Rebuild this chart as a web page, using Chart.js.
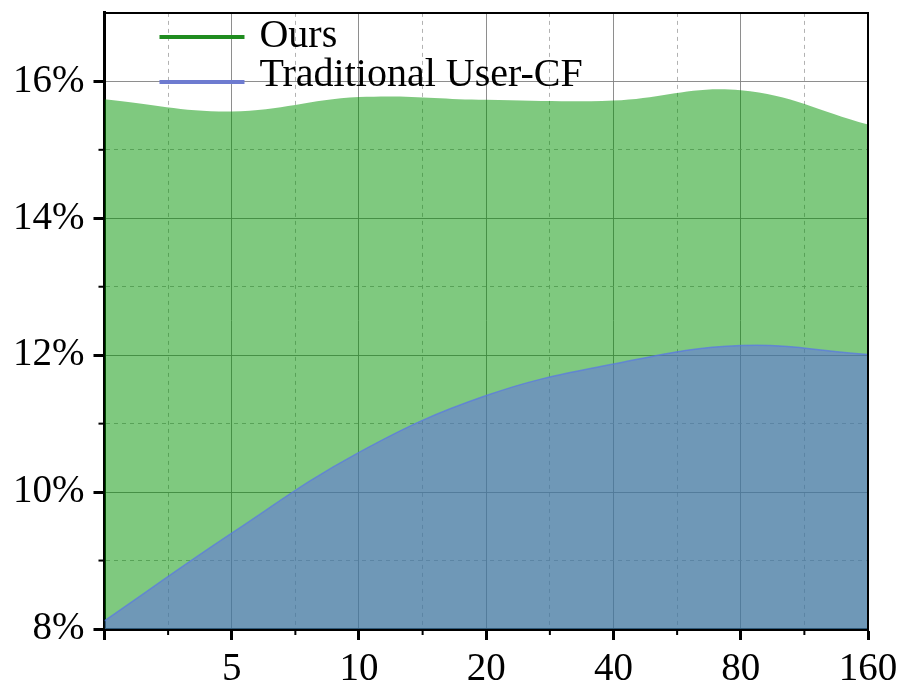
<!DOCTYPE html>
<html>
<head>
<meta charset="utf-8">
<script src="https://cdn.jsdelivr.net/npm/chart.js@4"></script>
<style>
  html, body { margin: 0; padding: 0; background: #fff; }
  #wrap { width: 904px; height: 686px; }
</style>
</head>
<body>
<div id="wrap"><canvas id="areaChart"></canvas></div>
<script>
// values
const categories = ["", "5", "10", "20", "40", "80", "160"];
const ours = [15.74, 15.56, 15.77, 15.73, 15.72, 15.87, 15.37];
const userCF = [8.12, 9.4, 10.58, 11.41, 11.87, 12.14, 12.01];
const seriesNames = ["Ours", "Traditional User-CF"];
const yTicks = [8, 10, 12, 14, 16];

const serif = "'Liberation Serif', 'Times New Roman', serif";
const lineColors = ["#1f8c1f", "#6e7bd0"];

const toPoints = (arr) => arr.map((v, i) => ({ x: i, y: v }));
const isMinorX = (v) => !Number.isInteger(v);
const isMinorY = (v) => v % 2 !== 0;

// top/right frame, short minor ticks and the legend inside the plot
const framePlugin = {
  id: "frame",
  afterDraw(chart) {
    const { ctx, chartArea: a, scales } = chart;
    ctx.save();
    ctx.strokeStyle = "#000";
    ctx.lineWidth = 2;
    ctx.beginPath();
    ctx.moveTo(a.left, a.top);
    ctx.lineTo(a.right, a.top);
    ctx.lineTo(a.right, a.bottom);
    ctx.stroke();

    scales.x.ticks.forEach((t) => {
      if (!isMinorX(t.value)) return;
      const px = scales.x.getPixelForValue(t.value);
      ctx.beginPath();
      ctx.moveTo(px, a.bottom);
      ctx.lineTo(px, a.bottom + 6);
      ctx.stroke();
    });
    scales.y.ticks.forEach((t) => {
      if (!isMinorY(t.value) || t.value >= 17) return;
      const py = scales.y.getPixelForValue(t.value);
      ctx.beginPath();
      ctx.moveTo(a.left, py);
      ctx.lineTo(a.left - 6, py);
      ctx.stroke();
    });

    // legend
    const lineY = [a.top + 24, a.top + 69];
    const textY = [a.top + 34, a.top + 73];
    ctx.font = "40px " + serif;
    ctx.textBaseline = "alphabetic";
    ctx.textAlign = "left";
    seriesNames.forEach((name, i) => {
      ctx.strokeStyle = lineColors[i];
      ctx.lineWidth = 4;
      ctx.beginPath();
      ctx.moveTo(a.left + 55, lineY[i]);
      ctx.lineTo(a.left + 140, lineY[i]);
      ctx.stroke();
      ctx.fillStyle = "#000";
      ctx.fillText(name, a.left + 155, textY[i]);
    });
    ctx.restore();
  },
};

new Chart(document.getElementById("areaChart"), {
  type: "line",
  data: {
    datasets: [
      {
        label: seriesNames[0],
        data: toPoints(ours),
        borderColor: "rgba(0,145,0,0.0)",
        borderWidth: 0,
        backgroundColor: "rgba(0,148,0,0.5)",
        fill: "start",
        tension: 0.4,
        pointRadius: 0,
        order: 2,
      },
      {
        label: seriesNames[1],
        data: toPoints(userCF),
        borderColor: "rgba(90,120,230,0.7)",
        borderWidth: 1.5,
        backgroundColor: "rgba(96,104,240,0.5)",
        fill: "start",
        tension: 0.4,
        pointRadius: 0,
        order: 1,
      },
    ],
  },
  options: {
    responsive: true,
    maintainAspectRatio: false,
    animation: false,
    layout: { padding: { left: 4, right: 36, top: 11, bottom: 0 } },
    plugins: {
      tooltip: { enabled: false },
      legend: { display: false },
    },
    scales: {
      x: {
        type: "linear",
        min: 0,
        max: categories.length - 1,
        afterFit: (scale) => {
          scale.height = 57;
          scale.paddingRight = 0;
        },
        ticks: {
          stepSize: 0.5,
          autoSkip: false,
          maxRotation: 0,
          padding: 10,
          color: "#000",
          font: { family: serif, size: 39, lineHeight: 1.0 },
          callback: (v) => (Number.isInteger(v) ? categories[v] : ""),
        },
        grid: {
          lineWidth: 1,
          tickLength: 11,
          tickWidth: 3,
          color: (ctx) =>
            ctx.tick && isMinorX(ctx.tick.value) ? "rgba(170,170,170,0.9)" : "rgba(130,130,130,0.9)",
          tickColor: (ctx) =>
            ctx.tick && isMinorX(ctx.tick.value) ? "rgba(0,0,0,0)" : "#000",
        },
        border: {
          color: "#000",
          width: 3,
          dash: (ctx) => (ctx.tick && isMinorX(ctx.tick.value) ? [4, 4] : []),
        },
      },
      y: {
        min: 8,
        max: 17,
        ticks: {
          stepSize: 1,
          padding: 9,
          color: "#000",
          font: { family: serif, size: 39, lineHeight: 0.2 },
          callback: (v) => (yTicks.includes(v) ? v + "%" : ""),
        },
        grid: {
          lineWidth: 1,
          tickLength: 11,
          tickWidth: 3,
          color: (ctx) =>
            ctx.tick && isMinorY(ctx.tick.value) ? "rgba(170,170,170,0.9)" : "rgba(130,130,130,0.9)",
          tickColor: (ctx) =>
            ctx.tick && (isMinorY(ctx.tick.value) || ctx.tick.value >= 17) ? "rgba(0,0,0,0)" : "#000",
        },
        border: {
          color: "#000",
          width: 3,
          dash: (ctx) => (ctx.tick && isMinorY(ctx.tick.value) ? [4, 4] : []),
        },
      },
    },
  },
  plugins: [framePlugin],
});
</script>
</body>
</html>
